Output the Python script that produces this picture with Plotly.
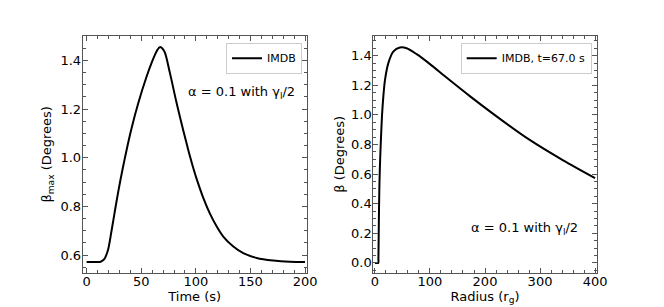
import plotly.graph_objects as go

# Left panel: beta_max vs time
time_s = [0, 5, 10, 12.8, 15, 16.8, 18, 19.8, 22.9, 25.9, 29, 33, 36.6, 41.2, 47.3, 55,
          60, 62.6, 64.5, 66, 67.2, 68.5, 70, 71.7, 76.3, 82.4, 88.5, 92.2, 94.6, 97.5,
          100.8, 106.8, 112.9, 119, 125.1, 134.3, 143.4, 155.7, 171, 186, 200]
beta_max = [0.571, 0.571, 0.571, 0.572, 0.578, 0.588, 0.600, 0.625, 0.702, 0.782, 0.862,
            0.955, 1.032, 1.122, 1.225, 1.335, 1.396, 1.424, 1.441, 1.451, 1.455, 1.453, 1.446,
            1.432, 1.348, 1.225, 1.112, 1.047, 1.006, 0.960, 0.912, 0.835, 0.770, 0.718,
            0.676, 0.635, 0.608, 0.588, 0.577, 0.572, 0.571]

# Right panel: beta vs radius at t = 67 s
radius = [0, 3, 6, 6.3, 7, 7.9, 9, 10.3, 12.7, 15.2, 18.2, 24.2, 33.3, 45.5, 57.6, 75.8,
          100, 130, 173, 221, 282, 342, 400]
beta = [0.0, 0.0, 0.0, 0.03, 0.25, 0.49, 0.65, 0.784, 0.987, 1.122, 1.235, 1.348, 1.427,
        1.455, 1.45, 1.41, 1.343, 1.252, 1.125, 0.99, 0.829, 0.693, 0.573]

FONT = "DejaVu Sans"
AX = "#555555"

fig = go.Figure()
fig.add_trace(go.Scatter(x=time_s, y=beta_max, mode="lines", name="IMDB", showlegend=True,
                         line=dict(color="black", width=2, shape="spline", smoothing=1.0),
                         xaxis="x", yaxis="y", legend="legend"))
fig.add_trace(go.Scatter(x=radius, y=beta, mode="lines", name="IMDB, t=67.0 s", showlegend=True,
                         line=dict(color="black", width=2, shape="spline", smoothing=0.8),
                         xaxis="x2", yaxis="y2", legend="legend2"))

def axis_common(dtick, minor_dtick, rng, domain, anchor, title, standoff, lstand):
    return dict(range=rng, domain=domain, anchor=anchor, dtick=dtick, automargin=False,
                ticks="inside", ticklen=5, tickwidth=1, tickcolor=AX,
                showline=True, linecolor=AX, linewidth=1, mirror="allticks",
                showgrid=False, zeroline=False, ticklabelstandoff=lstand,
                minor=dict(ticks="inside", dtick=minor_dtick, ticklen=3, tickcolor=AX, showgrid=False),
                tickfont=dict(family=FONT, size=13, color="black"),
                title=dict(text=title, font=dict(family=FONT, size=13, color="black"), standoff=standoff))

yd = [1 - 273 / 307, 1 - 35.7 / 307]
fig.update_layout(
    width=664, height=307, margin=dict(l=0, r=0, t=0, b=0, autoexpand=False),
    paper_bgcolor="white", plot_bgcolor="white", showlegend=True,
    xaxis=axis_common(50, 10, [-3.6, 201.5], [82.7 / 664, 306.7 / 664], "y", "Time (s)", 2, -4),
    yaxis=axis_common(0.2, 0.05, [0.526, 1.502], yd, "x", "β<sub>max</sub> (Degrees)", 5, -2),
    xaxis2=axis_common(100, 20, [-3, 403], [373.3 / 664, 596.7 / 664], "y2", "Radius (r<sub>g</sub>)", 2, -4),
    yaxis2=axis_common(0.2, 0.05, [-0.068, 1.535], yd, "x2", "β (Degrees)", 3, -2),
    legend=dict(x=302 / 664, y=1 - 42.7 / 307, xanchor="right", yanchor="top",
                bgcolor="white", bordercolor="#cccccc", borderwidth=1,
                font=dict(family=FONT, size=11, color="black"), itemwidth=30),
    legend2=dict(x=591.7 / 664, y=1 - 42.7 / 307, xanchor="right", yanchor="top",
                 bgcolor="white", bordercolor="#cccccc", borderwidth=1,
                 font=dict(family=FONT, size=11, color="black"), itemwidth=30),
    annotations=[
        dict(text="α = 0.1 with γ<sub>l</sub>/2", xref="paper", yref="paper",
             x=297 / 664, y=1 - 92 / 307, xanchor="right", yanchor="middle", showarrow=False,
             font=dict(family=FONT, size=13, color="black")),
        dict(text="α = 0.1 with γ<sub>l</sub>/2", xref="paper", yref="paper",
             x=580 / 664, y=1 - 228 / 307, xanchor="right", yanchor="middle", showarrow=False,
             font=dict(family=FONT, size=13, color="black")),
    ],
)
fig.update_yaxes(tickformat=".1f")

fig.write_html("out.html", config={"displayModeBar": False},
               post_script="document.body.style.margin='0';")
